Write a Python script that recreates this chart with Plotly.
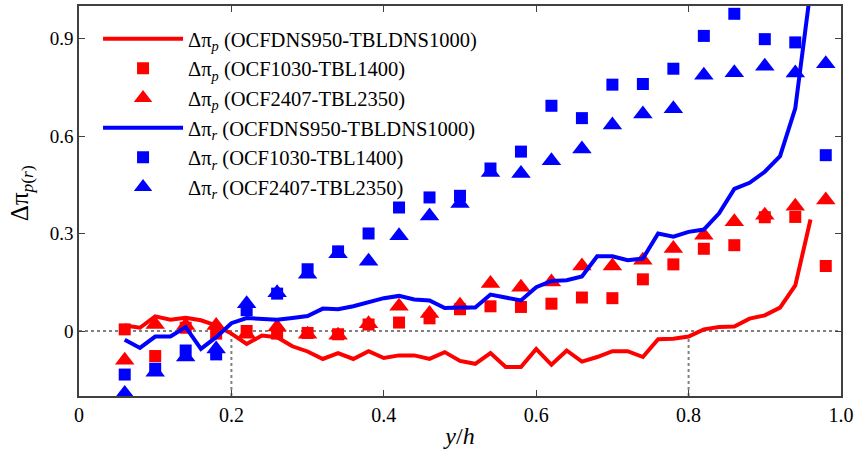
import plotly.graph_objects as go

# marker abscissae (y/h)
x_pts = [0.06, 0.10, 0.14, 0.18, 0.22, 0.26, 0.30, 0.34, 0.38, 0.42, 0.46, 0.50,
         0.54, 0.58, 0.62, 0.66, 0.70, 0.74, 0.78, 0.82, 0.86, 0.90, 0.94, 0.98]

# Δπ_p (OCF1030-TBL1400)
p_1030 = [0.005, -0.077, 0.01, -0.008, 0.0, -0.008, -0.006, -0.01, 0.02, 0.026, 0.039, 0.067,
          0.076, 0.074, 0.084, 0.103, 0.101, 0.159, 0.205, 0.253, 0.264, 0.35, 0.351, 0.2]
# Δπ_p (OCF2407-TBL2350)
p_2407 = [-0.09, 0.02, 0.017, 0.017, -0.01, 0.012, -0.01, -0.013, 0.022, 0.076, 0.054, 0.079,
          0.146, 0.135, 0.151, 0.2, 0.2, 0.218, 0.254, 0.295, 0.336, 0.356, 0.384, 0.403]
# Δπ_r (OCF1030-TBL1400)
r_1030 = [-0.134, -0.116, -0.06, -0.072, 0.064, 0.115, 0.19, 0.245, 0.3, 0.38, 0.411, 0.416,
          0.5, 0.552, 0.693, 0.655, 0.758, 0.76, 0.807, 0.908, 0.976, 0.898, 0.888, 0.541]
# Δπ_r (OCF2407-TBL2350)
r_2407 = [-0.192, -0.127, -0.08, -0.055, 0.084, 0.118, 0.175, 0.238, 0.215, 0.293, 0.354, 0.392,
          0.488, 0.485, 0.524, 0.56, 0.634, 0.668, 0.684, 0.787, 0.795, 0.815, 0.794, 0.822]

# DNS lines (OCFDNS950-TBLDNS1000)
x_dns = [0.06, 0.08, 0.10, 0.12, 0.14, 0.16, 0.18, 0.20, 0.22, 0.24, 0.26, 0.28, 0.30, 0.32,
         0.34, 0.36, 0.38, 0.40, 0.42, 0.44, 0.46, 0.48, 0.50, 0.52, 0.54, 0.56, 0.58, 0.60,
         0.62, 0.64, 0.66, 0.68, 0.70, 0.72, 0.74, 0.76, 0.78, 0.80, 0.82, 0.84, 0.86, 0.88,
         0.90, 0.92, 0.94, 0.96]
p_dns = [0.017, 0.01, 0.045, 0.035, 0.041, 0.033, 0.017, -0.008, -0.04, -0.014, -0.019, -0.047,
         -0.063, -0.086, -0.068, -0.086, -0.062, -0.083, -0.075, -0.075, -0.086, -0.065, -0.092,
         -0.101, -0.068, -0.111, -0.111, -0.055, -0.104, -0.06, -0.094, -0.08, -0.062, -0.062,
         -0.08, -0.025, -0.024, -0.017, 0.005, 0.012, 0.014, 0.038, 0.048, 0.072, 0.14, 0.343]
r_dns = [-0.027, -0.052, -0.017, -0.017, 0.012, -0.055, -0.019, 0.024, 0.04, 0.038, 0.035, 0.04,
         0.046, 0.069, 0.067, 0.076, 0.089, 0.101, 0.108, 0.097, 0.094, 0.071, 0.072, 0.072,
         0.112, 0.103, 0.094, 0.135, 0.154, 0.156, 0.168, 0.23, 0.23, 0.218, 0.223, 0.3, 0.29,
         0.305, 0.312, 0.362, 0.437, 0.456, 0.49, 0.538, 0.685, 1.05]

x_ticks = [0, 0.2, 0.4, 0.6, 0.8, 1.0]
x_ticktext = ["0", "0.2", "0.4", "0.6", "0.8", "1.0"]
y_ticks = [0, 0.3, 0.6, 0.9]
y_ticktext = ["0", "0.3", "0.6", "0.9"]

RED = "#ff0000"
BLUE = "#0000ff"
FONT = "Liberation Serif"

fig = go.Figure()
fig.add_trace(go.Scatter(x=x_dns, y=p_dns, mode="lines", line=dict(color=RED, width=4),
                         name="Δπ<sub><i>p</i></sub> (OCFDNS950-TBLDNS1000)"))
fig.add_trace(go.Scatter(x=x_pts, y=p_1030, mode="markers",
                         marker=dict(symbol="square", size=12, color=RED),
                         name="Δπ<sub><i>p</i></sub> (OCF1030-TBL1400)"))
fig.add_trace(go.Scatter(x=x_pts, y=p_2407, mode="markers",
                         marker=dict(symbol="triangle-up", size=17, color=RED),
                         name="Δπ<sub><i>p</i></sub> (OCF2407-TBL2350)"))
fig.add_trace(go.Scatter(x=x_dns, y=r_dns, mode="lines", line=dict(color=BLUE, width=4),
                         name="Δπ<sub><i>r</i></sub> (OCFDNS950-TBLDNS1000)"))
fig.add_trace(go.Scatter(x=x_pts, y=r_1030, mode="markers",
                         marker=dict(symbol="square", size=12, color=BLUE),
                         name="Δπ<sub><i>r</i></sub> (OCF1030-TBL1400)"))
fig.add_trace(go.Scatter(x=x_pts, y=r_2407, mode="markers",
                         marker=dict(symbol="triangle-up", size=17, color=BLUE),
                         name="Δπ<sub><i>r</i></sub> (OCF2407-TBL2350)"))

dot = dict(color="#808080", width=2, dash="dot")
fig.add_shape(type="line", x0=0, x1=1, y0=0, y1=0, line=dot, layer="below")
fig.add_shape(type="line", x0=0.2, x1=0.2, y0=-0.2, y1=0, line=dot, layer="below")
fig.add_shape(type="line", x0=0.8, x1=0.8, y0=-0.2, y1=-0.015, line=dot, layer="below")

# y-axis title as a rotated annotation for precise placement
fig.add_annotation(text="Δπ<sub><i>p</i>(<i>r</i>)</sub>", xref="paper", yref="paper",
                   x=0, y=0.52, xanchor="center", yanchor="middle", xshift=-58,
                   textangle=-90, showarrow=False, font=dict(family=FONT, size=25, color="black"))

axis_common = dict(showgrid=False, zeroline=False, showline=True, linecolor="#404040",
                   linewidth=1.5, mirror="ticks", ticks="inside", ticklen=6,
                   tickwidth=1.2, tickcolor="#404040", automargin=False)

fig.update_layout(
    width=855, height=453,
    margin=dict(l=79, r=14, t=6, b=57),
    paper_bgcolor="white", plot_bgcolor="white",
    font=dict(family=FONT, color="black"),
    xaxis=dict(range=[0, 1], tickvals=x_ticks, ticktext=x_ticktext,
               tickfont=dict(family=FONT, size=20, color="black"),
               title=dict(text="<i>y</i>/<i>h</i>", font=dict(family=FONT, size=24), standoff=2),
               **axis_common),
    yaxis=dict(range=[-0.2, 1.0], tickvals=y_ticks, ticktext=y_ticktext,
               tickfont=dict(family=FONT, size=19, color="black"),
               **axis_common),
    legend=dict(x=0.025, y=0.967, xanchor="left", yanchor="top",
                bgcolor="rgba(0,0,0,0)", font=dict(family=FONT, size=20.5),
                itemwidth=80, tracegroupgap=0),
    showlegend=True,
)

fig.write_html("out.html", config={"displayModeBar": False},
               post_script="document.body.style.margin='0';")
